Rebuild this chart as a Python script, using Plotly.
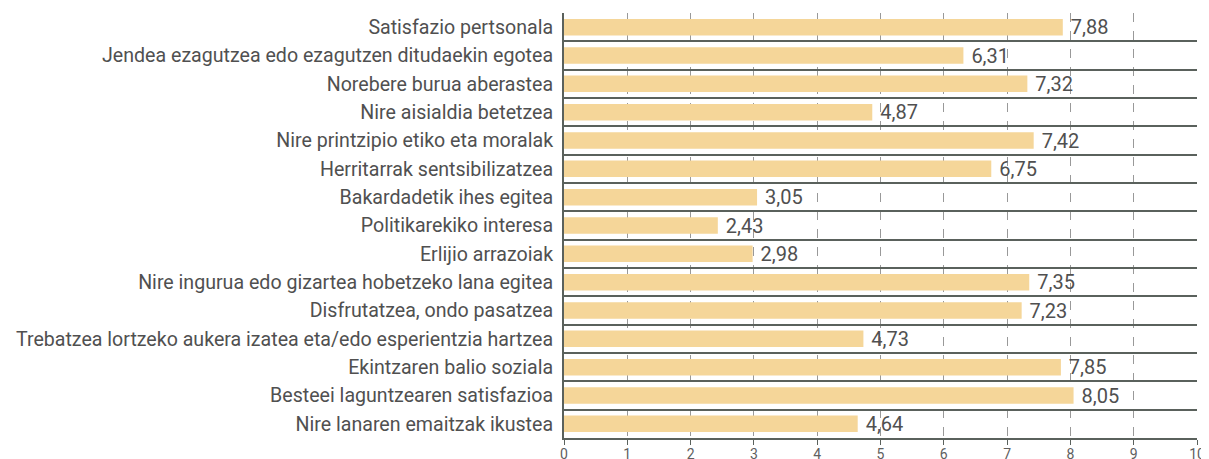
import plotly.graph_objects as go

categories = [
    "Satisfazio pertsonala",
    "Jendea ezagutzea edo ezagutzen ditudaekin egotea",
    "Norebere burua aberastea",
    "Nire aisialdia betetzea",
    "Nire printzipio etiko eta moralak",
    "Herritarrak sentsibilizatzea",
    "Bakardadetik ihes egitea",
    "Politikarekiko interesa",
    "Erlijio arrazoiak",
    "Nire ingurua edo gizartea hobetzeko lana egitea",
    "Disfrutatzea, ondo pasatzea",
    "Trebatzea lortzeko aukera izatea eta/edo esperientzia hartzea",
    "Ekintzaren balio soziala",
    "Besteei laguntzearen satisfazioa",
    "Nire lanaren emaitzak ikustea",
]
values = [7.88, 6.31, 7.32, 4.87, 7.42, 6.75, 3.05, 2.43, 2.98, 7.35, 7.23, 4.73, 7.85, 8.05, 4.64]
x_ticks = list(range(0, 11))

labels = [" " + f"{v:.2f}".replace(".", ",") for v in values]

fig = go.Figure(go.Bar(
    x=values, y=categories, orientation="h",
    marker=dict(color="#F5D699", line=dict(width=0)),
    width=0.58,
    text=labels, textposition="outside", constraintext="none",
    textfont=dict(family="Roboto", size=20, color="#505050"),
    cliponaxis=False,
))

fig.update_layout(
    width=1201, height=451,
    margin=dict(l=556, r=12, t=5, b=21, autoexpand=False),
    paper_bgcolor="white", plot_bgcolor="white",
    showlegend=False,
    font=dict(family="Roboto", color="#505050"),
    xaxis=dict(
        range=[0, 10], tickvals=x_ticks, ticktext=[str(t) for t in x_ticks],
        showgrid=True, gridcolor="#999999", griddash="dash", gridwidth=1,
        showline=True, linecolor="#5a615c", linewidth=2,
        ticks="outside", ticklen=5, tickcolor="#5a615c",
        tickfont=dict(size=14, color="#606060"), ticklabelstandoff=-3,
        zeroline=False, automargin=False,
    ),
    yaxis=dict(
        autorange="reversed", type="category",
        tickson="boundaries", showgrid=True, gridcolor="#5a615c", gridwidth=1.5,
        showline=True, linecolor="#5a615c", linewidth=2,
        ticks="", ticklabelstandoff=5, automargin=False,
        tickfont=dict(size=19.6, color="#505050"),
    ),
)

fig.write_html("out.html")
